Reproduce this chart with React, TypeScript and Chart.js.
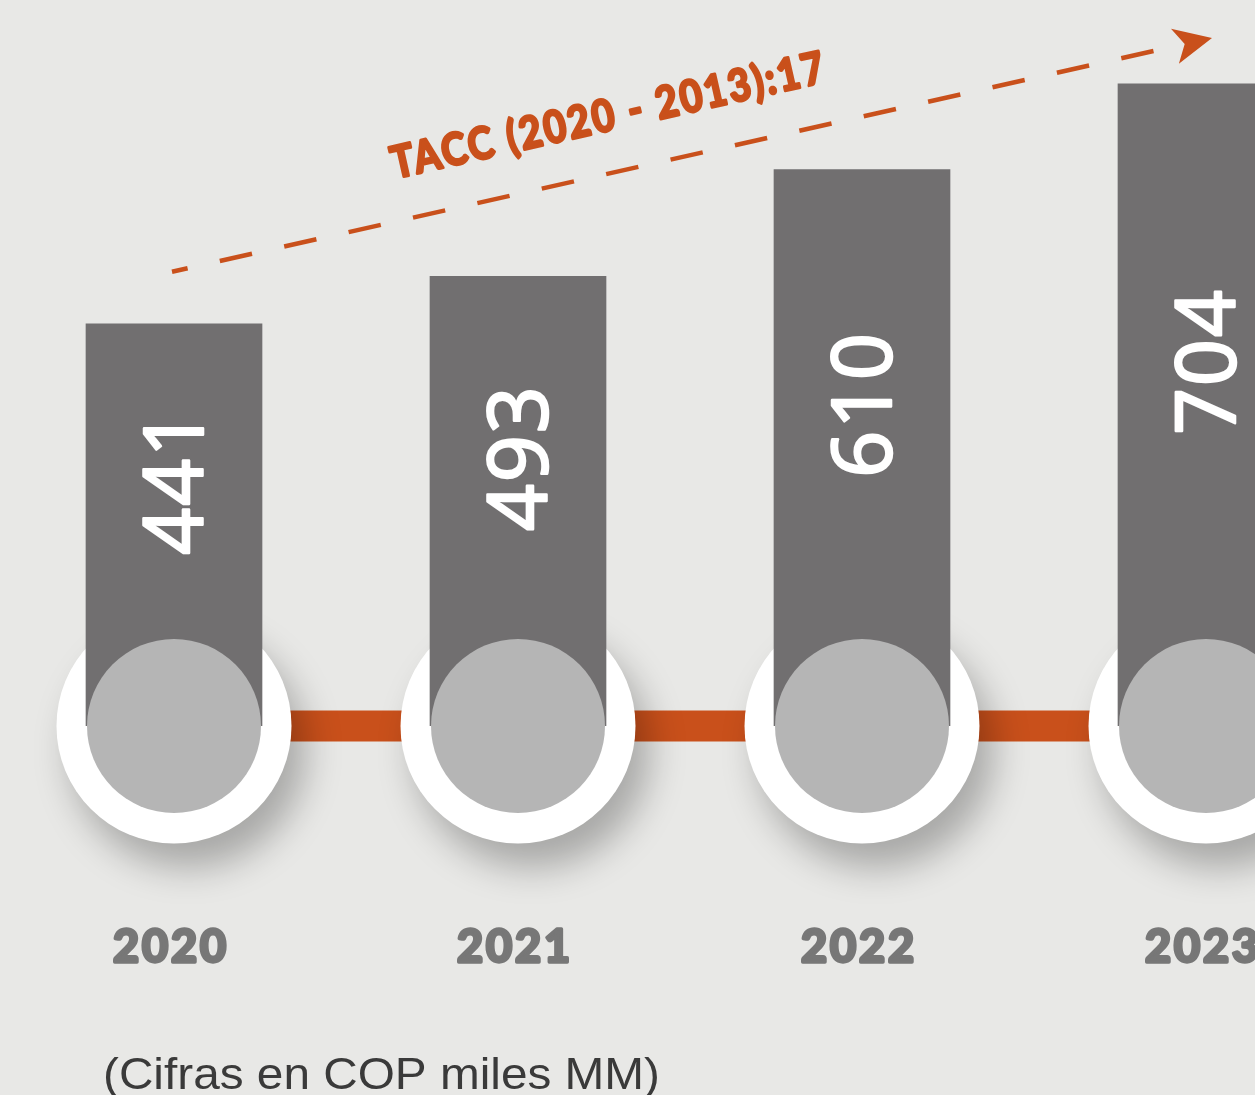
import React, { useEffect, useRef } from "react";
import { Chart, registerables } from "chart.js";

Chart.register(...registerables);

// ---- data ----
const years: string[] = ["2020", "2021", "2022", "2023"];
const values: number[] = [441, 493, 610, 704];
const annotationText = "TACC (2020 - 2013):17";
const footnote = "(Cifras en COP miles MM)";

// ---- style ----
const BG = "#e8e8e6";
const BAR = "#716f70";
const CIRCLE = "#b5b5b5";
const ORANGE = "#c9501b";
const YEAR_COLOR = "#777777";
const NOTE_COLOR = "#3a3a3a";

function heavyText(ctx: CanvasRenderingContext2D, text: string, x: number, y: number, color: string, weight: number) {
  ctx.fillStyle = color;
  ctx.strokeStyle = color;
  ctx.lineWidth = weight;
  ctx.lineJoin = "round";
  ctx.fillText(text, x, y);
  if (weight > 0) ctx.strokeText(text, x, y);
}

const decor = {
  id: "decor",
  beforeDatasetsDraw(chart: any) {
    const ctx: CanvasRenderingContext2D = chart.ctx;
    const xs = chart.scales.x;
    const ys = chart.scales.y;
    const cy = ys.getPixelForValue(0);
    const centers = values.map((_, i) => xs.getPixelForValue(i));
    ctx.save();
    ctx.fillStyle = ORANGE;
    ctx.fillRect(centers[0], cy - 15.5, centers[centers.length - 1] - centers[0], 31);
    centers.forEach((cx) => {
      ctx.save();
      ctx.shadowColor = "rgba(0,0,0,0.28)";
      ctx.shadowBlur = 36;
      ctx.shadowOffsetX = 14;
      ctx.shadowOffsetY = 24;
      ctx.fillStyle = "#ffffff";
      ctx.beginPath();
      ctx.arc(cx, cy, 117.5, 0, Math.PI * 2);
      ctx.fill();
      ctx.restore();
    });
    ctx.restore();
  },
  afterDatasetsDraw(chart: any) {
    const ctx: any = chart.ctx;
    const ys = chart.scales.y;
    const cy = ys.getPixelForValue(0);
    const meta = chart.getDatasetMeta(0);
    ctx.save();
    meta.data.forEach((bar: any, i: number) => {
      const r = bar.width / 2 - 1;
      ctx.fillStyle = CIRCLE;
      ctx.beginPath();
      ctx.arc(bar.x, cy, r, 0, Math.PI * 2);
      ctx.fill();
      // rotated value label
      const midY = (bar.y + (cy - r)) / 2;
      ctx.save();
      ctx.translate(bar.x, midY);
      ctx.rotate(-Math.PI / 2);
      ctx.font = "500 82px 'Open Sans'";
      ctx.letterSpacing = "2px";
      ctx.textAlign = "center";
      ctx.textBaseline = "alphabetic";
      const cap = 82 * 0.714;
      heavyText(ctx, String(values[i]), 0, cap / 2, "#ffffff", 2.5);
      ctx.restore();
      // year label
      ctx.save();
      ctx.font = "bold 46px Lato";
      ctx.letterSpacing = "3px";
      ctx.textAlign = "center";
      ctx.textBaseline = "alphabetic";
      const ref = ctx.measureText("2020").width;
      const sx = 116 / ref;
      ctx.translate(bar.x - 3, 962);
      ctx.scale(sx, 1);
      heavyText(ctx, years[i], 0, 0, YEAR_COLOR, 3.5);
      ctx.restore();
    });

    // dashed trend arrow
    const b0 = meta.data[0];
    const bl = meta.data[meta.data.length - 1];
    const sx0 = b0.x - 2;
    const sy0 = b0.y - 52;
    const ex = bl.x + 6;
    const ey = bl.y - 46;
    const ang = Math.atan2(ey - sy0, ex - sx0);
    const len = Math.hypot(ex - sx0, ey - sy0);
    ctx.save();
    ctx.translate(sx0, sy0);
    ctx.rotate(ang);
    ctx.strokeStyle = ORANGE;
    ctx.lineWidth = 4.5;
    ctx.setLineDash([33, 33]);
    ctx.lineDashOffset = 17;
    ctx.beginPath();
    ctx.moveTo(0, 0);
    ctx.lineTo(len - 26, 0);
    ctx.stroke();
    ctx.setLineDash([]);
    ctx.fillStyle = ORANGE;
    ctx.beginPath();
    ctx.moveTo(len, 0);
    ctx.lineTo(len - 38, -18);
    ctx.lineTo(len - 28, 0);
    ctx.lineTo(len - 38, 18);
    ctx.closePath();
    ctx.fill();
    // annotation text
    ctx.font = "bold 44px Lato";
    ctx.letterSpacing = "3px";
    ctx.textAlign = "left";
    ctx.textBaseline = "alphabetic";
    const tw = ctx.measureText(annotationText).width;
    ctx.translate(238, -42);
    ctx.scale(445 / tw, 1);
    heavyText(ctx, annotationText, 0, 0, ORANGE, 3);
    ctx.restore();

    // footnote
    ctx.save();
    ctx.font = "44px 'Liberation Sans'";
    ctx.letterSpacing = "0px";
    ctx.textAlign = "left";
    ctx.textBaseline = "alphabetic";
    const fw = ctx.measureText(footnote).width;
    ctx.translate(103, 1089);
    ctx.scale(557 / fw, 1);
    heavyText(ctx, footnote, 0, 0, NOTE_COLOR, 0);
    ctx.restore();

    ctx.restore();
  },
};

export default function App() {
  const canvasRef = useRef<HTMLCanvasElement | null>(null);

  useEffect(() => {
    const canvas = canvasRef.current;
    if (!canvas) return;
    const chart = new Chart(canvas, {
      type: "bar",
      data: {
        labels: years,
        datasets: [
          {
            data: values,
            backgroundColor: BAR,
            borderWidth: 0,
            barThickness: 176,
          },
        ],
      },
      options: {
        responsive: false,
        animation: false,
        events: [],
        layout: { padding: { left: 2, right: 22, top: 0, bottom: 369 } },
        plugins: {
          legend: { display: false },
          tooltip: { enabled: false },
        },
        scales: {
          x: { display: false, offset: true, grid: { display: false } },
          y: { display: false, min: 0, max: 796 },
        },
      },
      plugins: [decor],
    } as any);
    return () => chart.destroy();
  }, []);

  return (
    <div
      style={{
        position: "fixed",
        left: 0,
        top: 0,
        width: 1255,
        height: 1095,
        overflow: "hidden",
        background: BG,
      }}
    >
      <canvas ref={canvasRef} width={1400} height={1095} style={{ display: "block" }} />
    </div>
  );
}
